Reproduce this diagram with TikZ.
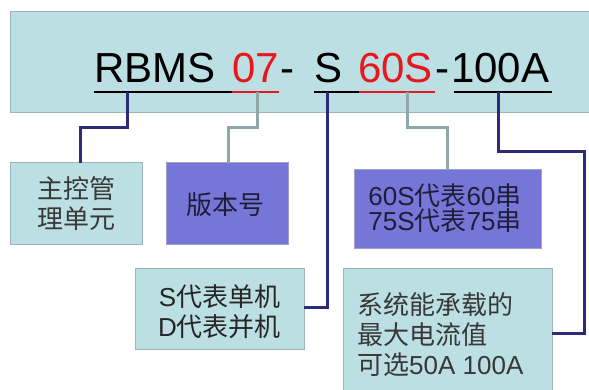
\documentclass[tikz,border=0pt]{standalone}
\usepackage{fontspec}
\setmainfont{Liberation Sans}
\newfontfamily\cjk{Noto Sans CJK SC}
\definecolor{cyanfill}{HTML}{BBDFE3}
\definecolor{boxline}{HTML}{9DB3B5}
\definecolor{purplefill}{HTML}{7676D8}
\definecolor{purpleline}{HTML}{A0A0C8}
\definecolor{navy}{HTML}{2D2A78}
\definecolor{linkgray}{HTML}{8FA7A9}
\definecolor{codered}{HTML}{E8171B}
\definecolor{textgray}{HTML}{383838}
\definecolor{textdark}{HTML}{1E1E3A}
\tikzset{
  cbox/.style={draw=boxline, fill=cyanfill, line width=1pt, inner sep=0pt, outer sep=0pt},
  pbox/.style={draw=purpleline, fill=purplefill, line width=1pt, inner sep=0pt, outer sep=0pt},
  codetext/.style={inner sep=0pt, anchor=base west, font=\fontsize{42}{48}\selectfont},
  uline/.style={line width=2pt},
  navylink/.style={draw=navy, line width=3pt},
  graylink/.style={draw=linkgray, line width=3pt},
  boxtext/.style={inner sep=0pt, text=textgray, font=\fontsize{26}{30}\selectfont},
  boxtextp/.style={inner sep=0pt, text=textdark, font=\fontsize{26}{25}\selectfont},
}
\begin{document}
\begin{tikzpicture}[x=1pt,y=-1pt]
\useasboundingbox (0,0) rectangle (589,390);
\fill[white] (0,0) rectangle (589,390);
% banner
\node[cbox, minimum width=592pt, minimum height=101pt] (banner) at (306,62.5) {};
% code segments
\node[codetext] (t1) at (94,83) {RBMS};
\node[codetext, text=codered] (t2) at (232,83) {07};
\node[codetext] (t3) at (280,83) {-};
\node[codetext] (t4) at (314,83) {S};
\node[codetext, text=codered] (t5) at (358,83) {60S};
\node[codetext] (t6) at (435,83) {-};
\node[codetext] (t7) at (451,83) {100A};
% underlines
\coordinate (a1) at (94,92);  \coordinate (a2) at (232,92);
\coordinate (a3) at (279,92);
\coordinate (a4) at (314,92); \coordinate (a5) at (359,92);
\coordinate (a6) at (435,92);
\coordinate (a7) at (454,92); \coordinate (a8) at (552,92);
\draw[uline] (a1) -- (a2);
\draw[uline, codered] (a2) -- (a3);
\draw[uline] (a4) -- (a5);
\draw[uline, codered] (a5) -- (a6);
\draw[uline] (a7) -- (a8);
% boxes
\node[cbox, minimum width=132pt, minimum height=82pt] (b1) at (76,204) {};
\node[pbox, minimum width=122pt, minimum height=82pt] (b2) at (227,204) {};
\node[pbox, minimum width=187pt, minimum height=79pt] (b3) at (447.5,209.5) {};
\node[cbox, minimum width=169pt, minimum height=81pt] (b4) at (219.5,308.5) {};
\node[cbox, minimum width=209pt, minimum height=130pt] (b5) at (447.5,333) {};
% box texts
\node[boxtext, anchor=west, align=left] (x1) at ([xshift=27pt]b1.west) {{\cjk 主控管}\\{\cjk 理单元}};
\node[boxtextp] (x2) at (225,205) {\cjk 版本号};
\node[boxtextp, align=center] (x3) at (445,208) {60S{\cjk 代表}60{\cjk 串}\\75S{\cjk 代表}75{\cjk 串}};
\node[boxtext, text=black!85, align=center] (x4) at (219.5,312) {S{\cjk 代表单机}\\D{\cjk 代表并机}};
\node[boxtext, anchor=west, align=left] (x5) at (357,335) {{\cjk 系统能承载的}\\{\cjk 最大电流值}\\{\cjk 可选}50A 100A};
% connectors
\coordinate (s1) at (127,92); \coordinate (c1) at (80,128);
\draw[navylink] (s1) |- (c1) -- (c1 |- b1.north);
\coordinate (s2) at (257,92); \coordinate (c2) at (228,128);
\draw[graylink] (s2) |- (c2) -- (c2 |- b2.north);
\coordinate (s3) at (327,92); \coordinate (c3) at (327,307);
\draw[navylink] (s3) -- (c3) -- (c3 -| b4.east);
\coordinate (s4) at (407,92); \coordinate (c4) at (447,128);
\draw[graylink] (s4) |- (c4) -- (c4 |- b3.north);
\coordinate (s5) at (498,92); \coordinate (c5) at (584,152); \coordinate (c6) at (584,333);
\draw[navylink] (s5) |- (c5) -- (c6) -- (c6 -| b5.east);
\end{tikzpicture}
\end{document}
